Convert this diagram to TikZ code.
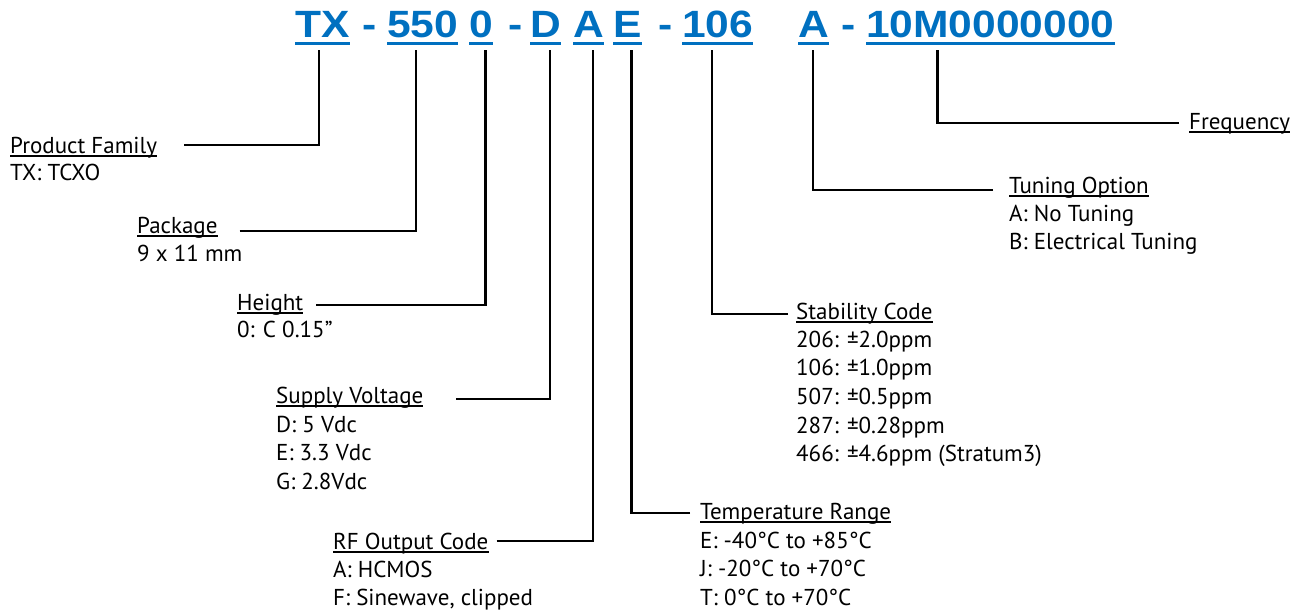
\documentclass[tikz,border=0pt]{standalone}
\usepackage{fontspec}
\setmainfont{PT Sans}
\newfontfamily\codefont{Liberation Sans}[FakeStretch=1.12]
\usetikzlibrary{positioning}
\definecolor{codeblue}{RGB}{0,112,192}
\newcommand{\fieldlist}[1]{\begin{tabular}[t]{@{}l@{}}#1\end{tabular}}

\begin{document}
\begin{tikzpicture}[x=1pt,y=-1pt,line cap=butt,line join=miter,
  code/.style={anchor=base west,inner sep=0pt,text=codeblue,font=\codefont\bfseries\fontsize{38}{38}\selectfont},
  head/.style={anchor=base west,inner sep=0pt,font=\fontsize{23}{29}\selectfont},
  body/.style={anchor=base west,inner sep=0pt,font=\fontsize{23}{28.7}\selectfont},
  wire/.style={line width=2.3pt},
  uline/.style={codeblue,line width=3pt},
  hline/.style={line width=1.2pt}]
\useasboundingbox (0,0) rectangle (1302,613);
% part number
\node[code] (tx) at (295,37) {TX};
\node[code] (d1) at (362,37) {-};
\node[code] (pkg) at (387,37) {550};
\node[code] (hgt) at (469,37) {0};
\node[code] (d2) at (508,37) {-};
\node[code] (sup) at (530,37) {D};
\node[code] (out) at (573,37) {A};
\node[code] (tmp) at (613,37) {E};
\node[code] (d3) at (658,37) {-};
\node[code] (stb) at (682,37) {106};
\node[code] (tun) at (798,37) {A};
\node[code] (d4) at (841,37) {-};
\node[code] (frq) at (866,37) {10M0000000};
\foreach \n in {tx,pkg,hgt,sup,out,tmp,stb,tun,frq}
  \draw[uline] ([yshift=-6.5pt]\n.base west) -- ([yshift=-6.5pt]\n.base east);
% tick tops
\coordinate (ktx) at (319,50);
\coordinate (kpkg) at (416,50);
\coordinate (khgt) at (485.5,50);
\coordinate (ksup) at (550,50);
\coordinate (kout) at (593,50);
\coordinate (ktmp) at (631.5,50);
\coordinate (kstb) at (712,50);
\coordinate (ktun) at (813,50);
\coordinate (kfrq) at (937.5,50);
% field labels
\node[head] (pfH) at (10,153) {Product Family};
\node[body] (pfB) at (10,180) {\fieldlist{TX: TCXO}};
\node[head] (pkH) at (137,233) {Package};
\node[body] (pkB) at (137,261) {\fieldlist{9 x 11 mm}};
\node[head] (htH) at (237,310) {Height};
\node[body] (htB) at (237,337) {\fieldlist{0: C 0.15”}};
\node[head] (svH) at (276,403) {Supply Voltage};
\node[body] (svB) at (276,432) {\fieldlist{D: 5 Vdc\\E: 3.3 Vdc\\G: 2.8Vdc}};
\node[head] (rfH) at (333,549) {RF Output Code};
\node[body] (rfB) at (333,577) {\fieldlist{A: HCMOS\\F: Sinewave, clipped}};
\node[head] (trH) at (700,519) {Temperature Range};
\node[body] (trB) at (700,548) {\fieldlist{E: -40°C to +85°C\\J: -20°C to +70°C\\T: 0°C to +70°C}};
\node[head] (scH) at (796,319) {Stability Code};
\node[body] (scB) at (796,347) {\fieldlist{206: ±2.0ppm\\106: ±1.0ppm\\507: ±0.5ppm\\287: ±0.28ppm\\466: ±4.6ppm (Stratum3)}};
\node[head] (toH) at (1009,193) {Tuning Option};
\node[body] (toB) at (1009,221) {\fieldlist{A: No Tuning\\B: Electrical Tuning}};
\node[head] (frH) at (1189,129) {Frequency};
\foreach \n in {pfH,pkH,htH,svH,rfH,trH,scH,toH,frH}
  \draw[hline] ([yshift=-3pt]\n.base west) -- ([yshift=-3pt]\n.base east);
% leaders
\draw[wire] ([xshift=27pt,yshift=8pt]pfH.base east) -| (ktx);
\draw[wire] ([xshift=22pt,yshift=2pt]pkH.base east) -| (kpkg);
\draw[wire] ([xshift=13pt,yshift=5pt]htH.base east) -| (khgt);
\draw[wire] ([xshift=33pt,yshift=4pt]svH.base east) -| (ksup);
\draw[wire] ([xshift=8pt,yshift=8pt]rfH.base east) -| (kout);
\draw[wire] ([xshift=-10pt,yshift=6pt]trH.base west) -| (ktmp);
\draw[wire] ([xshift=-8pt,yshift=5pt]scH.base west) -| (kstb);
\draw[wire] ([xshift=-16pt,yshift=3pt]toH.base west) -| (ktun);
\draw[wire] ([xshift=-10pt,yshift=6pt]frH.base west) -| (kfrq);
\end{tikzpicture}
\end{document}
